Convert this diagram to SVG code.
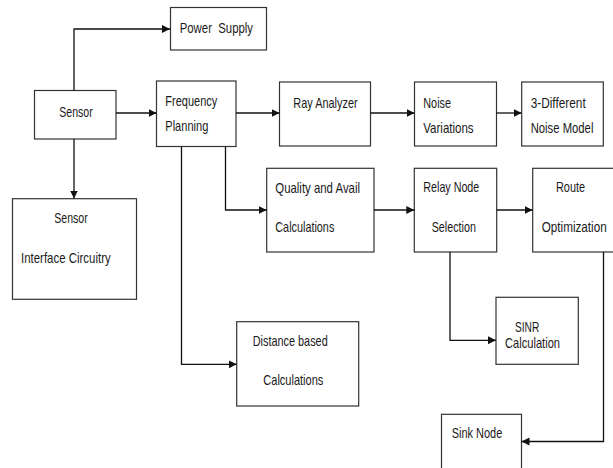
<svg xmlns="http://www.w3.org/2000/svg" width="613" height="468" viewBox="0 0 613 468">
<defs>
<style>
rect{fill:#fff;stroke:#333;stroke-width:1.2}
text{font-family:"Liberation Sans",Arial,sans-serif;font-size:15px;fill:#1a1a1a}
.c path{fill:none;stroke:#111;stroke-width:1.3}
</style>
<marker id="ah" markerUnits="userSpaceOnUse" markerWidth="9" markerHeight="9" refX="8" refY="4.5" orient="auto"><path d="M0,0.5 L8,4.5 L0,8.5 z" fill="#111"/></marker>
</defs>
<rect x="0" y="0" width="613" height="468" style="stroke:none"/>
<g id="power"><rect x="170.5" y="7.5" width="96" height="42.5"/><text x="179.7" y="33.3" textLength="73.3" lengthAdjust="spacingAndGlyphs" xml:space="preserve">Power  Supply</text></g>
<g id="sensor"><rect x="34.5" y="90.5" width="81.5" height="48.5"/><text x="59.3" y="117.3" textLength="33.4" lengthAdjust="spacingAndGlyphs">Sensor</text></g>
<g id="freq"><rect x="156.5" y="81" width="79.5" height="65.5"/><text x="165.3" y="106" textLength="52" lengthAdjust="spacingAndGlyphs">Frequency</text><text x="165.3" y="130.7" textLength="43" lengthAdjust="spacingAndGlyphs">Planning</text></g>
<g id="ray"><rect x="279.5" y="82" width="91" height="64"/><text x="293.3" y="108.3" textLength="64.3" lengthAdjust="spacingAndGlyphs">Ray Analyzer</text></g>
<g id="noise"><rect x="414.5" y="82" width="82" height="64"/><text x="423.3" y="107.7" textLength="27.7" lengthAdjust="spacingAndGlyphs">Noise</text><text x="423.3" y="133.3" textLength="50.3" lengthAdjust="spacingAndGlyphs">Variations</text></g>
<g id="model"><rect x="521.7" y="82" width="81.6" height="64"/><text x="530.7" y="107.7" textLength="55" lengthAdjust="spacingAndGlyphs">3-Different</text><text x="530.7" y="133.3" textLength="62.7" lengthAdjust="spacingAndGlyphs">Noise Model</text></g>
<g id="interface"><rect x="12.5" y="198.7" width="124" height="100.6"/><text x="54.3" y="223.3" textLength="33.4" lengthAdjust="spacingAndGlyphs">Sensor</text><text x="21" y="263.3" textLength="89.7" lengthAdjust="spacingAndGlyphs">Interface Circuitry</text></g>
<g id="quality"><rect x="266.7" y="168.3" width="107.3" height="83.7"/><text x="275.3" y="192.7" textLength="84.7" lengthAdjust="spacingAndGlyphs">Quality and Avail</text><text x="275.3" y="231.7" textLength="59" lengthAdjust="spacingAndGlyphs">Calculations</text></g>
<g id="relay"><rect x="414.3" y="168.3" width="82.4" height="83.7"/><text x="423.3" y="191.7" textLength="56" lengthAdjust="spacingAndGlyphs">Relay Node</text><text x="431.7" y="231.7" textLength="44.3" lengthAdjust="spacingAndGlyphs">Selection</text></g>
<g id="route"><rect x="532.7" y="168.3" width="85" height="83.7"/><text x="556" y="191.7" textLength="29" lengthAdjust="spacingAndGlyphs">Route</text><text x="541.7" y="231.7" textLength="65" lengthAdjust="spacingAndGlyphs">Optimization</text></g>
<g id="distance"><rect x="236.7" y="321.7" width="122" height="84.3"/><text x="252.7" y="346" textLength="75" lengthAdjust="spacingAndGlyphs">Distance based</text><text x="263.3" y="385" textLength="60" lengthAdjust="spacingAndGlyphs">Calculations</text></g>
<g id="sinr"><rect x="496" y="297.3" width="82.3" height="67"/><text x="515" y="331.7" textLength="24.3" lengthAdjust="spacingAndGlyphs">SINR</text><text x="505" y="348.3" textLength="55" lengthAdjust="spacingAndGlyphs">Calculation</text></g>
<g id="sink"><rect x="441.5" y="414.3" width="80" height="60"/><text x="451.7" y="438.3" textLength="50.6" lengthAdjust="spacingAndGlyphs">Sink Node</text></g>
<g class="c" id="connectors">
<path d="M74,90.5 V29 H170" marker-end="url(#ah)"/>
<path d="M74,139 V198.5" marker-end="url(#ah)"/>
<path d="M116,113 H156.5" marker-end="url(#ah)"/>
<path d="M236,113 H279.5" marker-end="url(#ah)"/>
<path d="M370.5,113 H414.5" marker-end="url(#ah)"/>
<path d="M496.5,113 H521.7" marker-end="url(#ah)"/>
<path d="M225.5,146.5 V210 H266.7" marker-end="url(#ah)"/>
<path d="M181.5,146.5 V364.3 H236.7" marker-end="url(#ah)"/>
<path d="M374,210 H414.3" marker-end="url(#ah)"/>
<path d="M496.7,210 H532.7" marker-end="url(#ah)"/>
<path d="M450,252 V340.3 H496" marker-end="url(#ah)"/>
<path d="M603.5,252 V441.5 H521.5" marker-end="url(#ah)"/>
</g>
</svg>
